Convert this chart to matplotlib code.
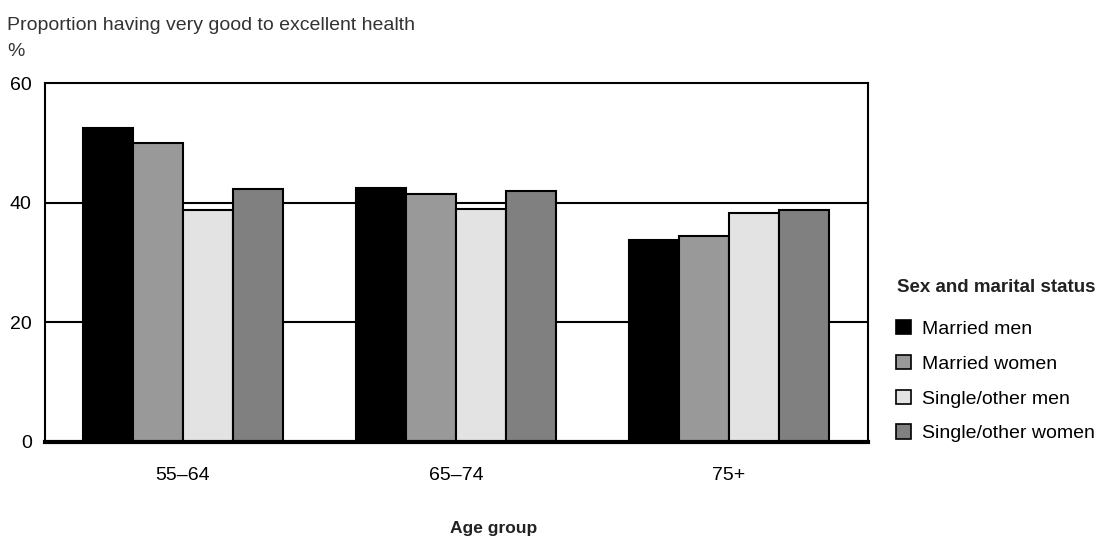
import matplotlib
matplotlib.use("Agg")
import matplotlib.pyplot as plt
import numpy as np
from matplotlib.patches import Patch

age_groups = ["55\u201364", "65\u201374", "75+"]
series_names = ["Married men", "Married women", "Single/other men", "Single/other women"]
married_men = [52.4, 42.4, 33.8]
married_women = [50.0, 41.4, 34.4]
single_men = [38.7, 39.0, 38.3]
single_women = [42.3, 42.0, 38.7]
yticks = [0, 20, 40, 60]

colors = ["#000000", "#999999", "#e3e3e3", "#808080"]

fam = ["Liberation Sans", "DejaVu Sans"]
plt.rcParams['font.family'] = fam

W, H = 1105, 541
fig = plt.figure(figsize=(W / 100, H / 100), dpi=100)
ax = fig.add_axes([45 / W, 1 - 442 / H, (868 - 45) / W, (442 - 83) / H])

series = [married_men, married_women, single_men, single_women]
x = np.arange(len(age_groups))
w = 0.183
for i, (vals, c) in enumerate(zip(series, colors)):
    ax.bar(x + (i - 1.5) * w, vals, width=w, color=c, edgecolor="black", linewidth=1.5, zorder=3)

ax.set_xlim(-0.505, 2.51)
ax.set_ylim(0, 60)
ax.set_yticks(yticks)
ax.set_yticklabels([str(v) for v in yticks], fontsize=14)
for v in [20, 40]:
    ax.axhline(v, color="black", linewidth=1.5, zorder=1)
ax.set_xticks(x)
ax.set_xticklabels(age_groups, fontsize=14)
ax.tick_params(axis="y", length=0, pad=9.5)
ax.tick_params(axis="x", length=0, pad=18)
for s in ["top", "right", "left"]:
    ax.spines[s].set_linewidth(1.5)
ax.spines["bottom"].set_linewidth(3)
ax.spines["bottom"].set_zorder(4)

fig.text(7 / W, 1 - 25 / H, "Proportion having very good to excellent health", fontsize=14,
         va="center", ha="left", color="#333333")
fig.text(7 / W, 1 - 51 / H, "%", fontsize=14, va="center", ha="left", color="#333333")
fig.text(494 / W, 1 - 528 / H, "Age group", fontsize=12.5, fontweight="bold", va="center", ha="center",
         color="#222222")

fig.text(897 / W, 1 - 288 / H, "Sex and marital status", fontsize=13.5, fontweight="bold",
         va="center", ha="left", color="#222222")
handles = [Patch(facecolor=c, edgecolor="black", linewidth=1.2) for c in colors]
leg = fig.legend(handles, series_names, loc="upper left", bbox_to_anchor=(896 / W, 1 - 320 / H),
                 frameon=False, fontsize=14, borderpad=0, borderaxespad=0,
                 handlelength=0.75, handleheight=0.75, handletextpad=0.6, labelspacing=0.87)

fig.savefig("out.png", dpi=100)
